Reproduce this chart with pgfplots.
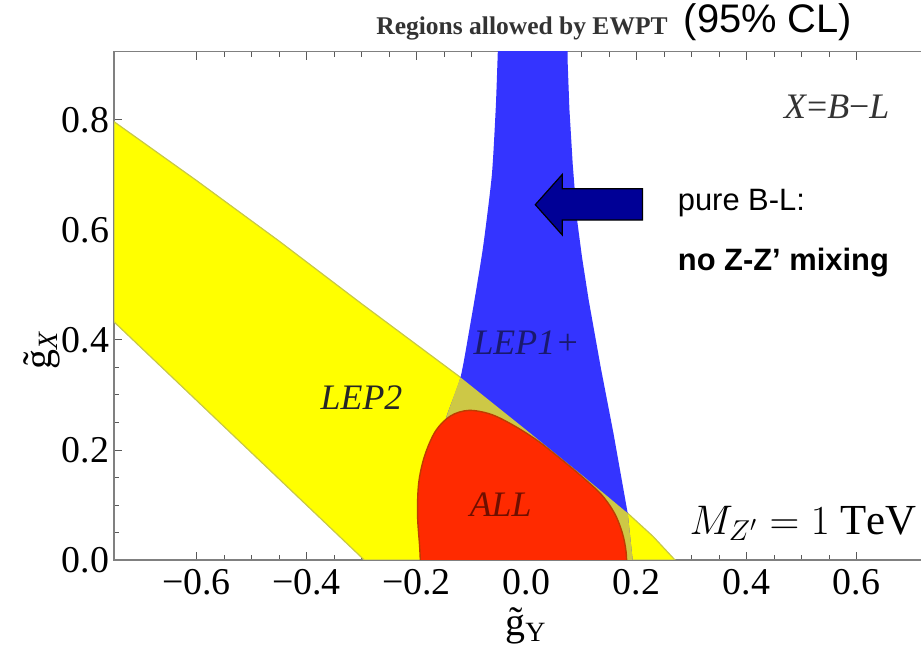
\documentclass[border=0pt]{standalone}
\usepackage{pgfplots}
\pgfplotsset{compat=1.18}
\usepackage{fontspec}
\setmainfont{Liberation Serif}
\newfontfamily\arial{Liberation Sans}
\definecolor{lyel}{RGB}{255,255,0}
\definecolor{lyeledge}{RGB}{200,200,70}
\definecolor{lblue}{RGB}{52,52,255}
\definecolor{lolive}{RGB}{205,200,70}
\definecolor{lred}{RGB}{255,42,0}
\definecolor{lrededge}{RGB}{190,60,0}
\definecolor{arrowblue}{RGB}{0,0,150}
\definecolor{txtblue}{RGB}{25,25,110}
\definecolor{txtred}{RGB}{110,15,0}
\begin{document}
\begin{tikzpicture}
\useasboundingbox (-57bp,-52bp) rectangle (403.5bp,280bp);
\begin{axis}[
  at={(0,0)}, anchor=south west,
  scale only axis, width=412.5bp, height=254.1bp,
  xmin=-0.75, xmax=0.75, ymin=0, ymax=0.924,
  xtick={-0.6,-0.4,-0.2,0,0.2,0.4,0.6},
  xticklabels={−0.6,−0.4,−0.2,0.0,0.2,0.4,0.6},
  ytick={0,0.2,0.4,0.6,0.8},
  yticklabels={0.0,0.2,0.4,0.6,0.8},
  minor x tick num=3, minor y tick num=3,
  tick align=inside,
  major tick length=4bp, minor tick length=2.5bp,
  every tick/.style={gray!70!black, line width=0.5pt},
  axis line style={gray, line width=0.6pt},
  tick label style={font=\fontsize{19}{19}\selectfont},
  xticklabel style={yshift=-1bp},
  yticklabel style={xshift=1bp},
]
% LEP2 band
\addplot[fill=lyel, draw=lyeledge, line width=0.6pt] coordinates {
(-0.75,0.797) (-0.6,0.69) (-0.45,0.58) (-0.3,0.466) (-0.12,0.332) (0.0,0.236) (0.1,0.155) (0.184,0.085) (0.23,0.043) (0.27,0)
(-0.295,0) (-0.75,0.433)} -- cycle;
% LEP1+ funnel
\addplot[fill=lblue, draw=none, smooth, tension=0.4] coordinates {
(-0.051,0.96) (-0.053,0.90) (-0.056,0.82) (-0.063,0.70) (-0.078,0.576) (-0.09,0.50) (-0.103,0.424) (-0.12,0.332) (-0.145,0.262) (-0.168,0.18) (-0.183,0.09) (-0.19,0) (-0.192,-0.03)} -- (axis cs:0.196,-0.03) -- (axis cs:0.193,0) -- (axis cs:0.184,0.085) -- (axis cs:0.158,0.231) -- (axis cs:0.135,0.35) -- (axis cs:0.113,0.473) -- (axis cs:0.101,0.55) -- (axis cs:0.092,0.618) -- (axis cs:0.084,0.72) -- (axis cs:0.078,0.82) -- (axis cs:0.075,0.90) -- (axis cs:0.074,0.96) -- cycle;
% overlap
\addplot[fill=lolive, draw=none] coordinates {
(-0.12,0.332) (0.0,0.236) (0.1,0.155) (0.184,0.085) (0.193,0) (-0.19,0) (-0.183,0.09) (-0.168,0.18) (-0.145,0.262)} -- cycle;
% ALL
\addplot[fill=lred, draw=lrededge, line width=0.7pt, smooth, tension=0.55] coordinates {
(-0.192,-0.03) (-0.194,0.02) (-0.198,0.08) (-0.196,0.14) (-0.185,0.19) (-0.165,0.235) (-0.138,0.262) (-0.105,0.272) (-0.065,0.265) (-0.024,0.245) (0.02,0.217) (0.067,0.180) (0.105,0.148) (0.137,0.118) (0.16,0.085) (0.174,0.05) (0.181,0.015) (0.183,-0.03)} -- cycle;
% labels
\node[font=\fontsize{18}{18}\selectfont\itshape, text=black!85] at (axis cs:-0.30,0.296) {LEP2};
\node[font=\fontsize{18}{18}\selectfont\itshape, text=txtblue] at (axis cs:0.0,0.396) {LEP1+};
\node[font=\fontsize{18}{18}\selectfont\itshape, text=txtred] at (axis cs:-0.047,0.10) {ALL};
\node[font=\fontsize{18}{18}\selectfont, text=black!80] at (axis cs:0.564,0.824) {\textit{X}=\textit{B}−\textit{L}};
% arrow
\draw[fill=arrowblue, draw=black, line width=0.6pt] (axis cs:0.016,0.646) -- (axis cs:0.065,0.701) -- (axis cs:0.065,0.675) -- (axis cs:0.211,0.675) -- (axis cs:0.211,0.618) -- (axis cs:0.065,0.618) -- (axis cs:0.065,0.591) -- cycle;
\node[anchor=west, font=\arial\fontsize{15.5}{15.5}\selectfont, inner sep=0pt] at (axis cs:0.2745,0.649) {pure B-L:};
\node[anchor=west, font=\arial\bfseries\fontsize{15.5}{15.5}\selectfont, inner sep=0pt] at (axis cs:0.2745,0.54) {no Z-Z’ mixing};
\end{axis}
% outer texts (1px = 0.5bp, origin at axis lower-left)
\node[font=\bfseries\fontsize{12.8}{12.8}\selectfont, text=black!80] at (204bp,266bp) {Regions allowed by EWPT};
\node[font=\arial\fontsize{20}{20}\selectfont] at (327bp,269bp) {(95\% CL)};
\node[font=\fontsize{20}{20}\selectfont] at (206bp,-33bp) {\~{g}\textsubscript{Y}};
\node[font=\fontsize{20}{20}\selectfont, rotate=90] at (-36bp,105bp) {\~{g}\textsubscript{\textit{X}}};
\node[anchor=east, inner sep=0pt, font=\fontsize{21.5}{21.5}\selectfont] at (401.5bp,18.5bp) {$M_{Z'} = 1\ \mathrm{TeV}$};
\end{tikzpicture}
\end{document}
